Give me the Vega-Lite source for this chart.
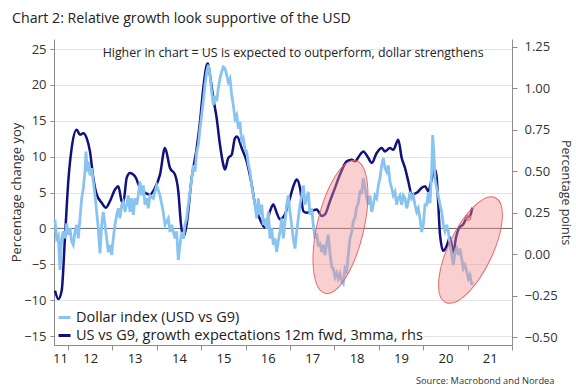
{
  "$schema": "https://vega.github.io/schema/vega-lite/v6.json",
  "width": 458,
  "height": 306,
  "autosize": "none",
  "padding": {"left": 54, "top": 39, "right": 64, "bottom": 43},
  "background": "white",
  "title": {"text": "Chart 2: Relative growth look supportive of the USD", "anchor": "start", "frame": "group", "dx": -42, "dy": 16, "offset": 18, "fontSize": 14.2, "fontWeight": "normal", "font": "Open Sans", "color": "#222222", "baseline": "alphabetic"},
  "config": {
    "view": {"stroke": null},
    "font": "Open Sans",
    "axis": {"labelFont": "Open Sans", "titleFont": "Open Sans", "labelColor": "#333333", "titleColor": "#333333", "titleFontWeight": "normal", "domainColor": "#8c8c8c", "tickColor": "#8c8c8c", "labelFontSize": 13, "titleFontSize": 13},
    "legend": {"labelFont": "Open Sans", "labelFontSize": 14.5, "labelColor": "#222222", "labelLimit": 500}
  },
  "resolve": {"scale": {"y": "independent"}, "axis": {"x": "independent", "y": "independent"}},
  "layer": [
    {
      "data": {"values": [{"v": 0}]},
      "mark": {"type": "rule", "color": "#666666", "strokeWidth": 1},
      "encoding": {
        "y": {"field": "v", "type": "quantitative", "scale": {"domain": [-16.25, 26.4], "nice": false, "zero": false}, "axis": null}
      }
    },
    {
      "data": {"values": [
        {"t": 2011.707, "v": -0.22}, {"t": 2011.782, "v": -0.27}, {"t": 2011.858, "v": -0.22}, {"t": 2011.932, "v": 0.10},
        {"t": 2012.007, "v": 0.44}, {"t": 2012.083, "v": 0.64}, {"t": 2012.196, "v": 0.75}, {"t": 2012.270, "v": 0.72},
        {"t": 2012.345, "v": 0.73}, {"t": 2012.421, "v": 0.70}, {"t": 2012.495, "v": 0.62}, {"t": 2012.570, "v": 0.46},
        {"t": 2012.646, "v": 0.36}, {"t": 2012.759, "v": 0.31}, {"t": 2012.856, "v": 0.28}, {"t": 2012.946, "v": 0.32},
        {"t": 2013.059, "v": 0.39}, {"t": 2013.133, "v": 0.41}, {"t": 2013.209, "v": 0.32}, {"t": 2013.245, "v": 0.31},
        {"t": 2013.322, "v": 0.46}, {"t": 2013.396, "v": 0.49}, {"t": 2013.509, "v": 0.47}, {"t": 2013.622, "v": 0.40},
        {"t": 2013.734, "v": 0.37}, {"t": 2013.847, "v": 0.36}, {"t": 2013.959, "v": 0.40}, {"t": 2014.072, "v": 0.48},
        {"t": 2014.185, "v": 0.64}, {"t": 2014.297, "v": 0.52}, {"t": 2014.410, "v": 0.48}, {"t": 2014.484, "v": 0.38},
        {"t": 2014.545, "v": 0.18}, {"t": 2014.597, "v": 0.10}, {"t": 2014.673, "v": 0.18}, {"t": 2014.786, "v": 0.46},
        {"t": 2014.899, "v": 0.64}, {"t": 2014.973, "v": 0.80}, {"t": 2015.047, "v": 1.00}, {"t": 2015.124, "v": 1.14},
        {"t": 2015.153, "v": 1.15}, {"t": 2015.198, "v": 1.08}, {"t": 2015.273, "v": 0.94}, {"t": 2015.349, "v": 0.82},
        {"t": 2015.423, "v": 0.66}, {"t": 2015.498, "v": 0.54}, {"t": 2015.536, "v": 0.51}, {"t": 2015.610, "v": 0.58},
        {"t": 2015.687, "v": 0.60}, {"t": 2015.761, "v": 0.70}, {"t": 2015.806, "v": 0.71}, {"t": 2015.912, "v": 0.64},
        {"t": 2016.025, "v": 0.56}, {"t": 2016.137, "v": 0.42}, {"t": 2016.212, "v": 0.30}, {"t": 2016.324, "v": 0.21},
        {"t": 2016.437, "v": 0.16}, {"t": 2016.550, "v": 0.26}, {"t": 2016.624, "v": 0.30}, {"t": 2016.700, "v": 0.25},
        {"t": 2016.775, "v": 0.21}, {"t": 2016.887, "v": 0.24}, {"t": 2017.000, "v": 0.34}, {"t": 2017.090, "v": 0.42},
        {"t": 2017.151, "v": 0.45}, {"t": 2017.225, "v": 0.40}, {"t": 2017.300, "v": 0.26}, {"t": 2017.376, "v": 0.25},
        {"t": 2017.489, "v": 0.26}, {"t": 2017.601, "v": 0.27}, {"t": 2017.714, "v": 0.23}, {"t": 2017.788, "v": 0.24},
        {"t": 2017.901, "v": 0.32}, {"t": 2018.014, "v": 0.40}, {"t": 2018.126, "v": 0.48}, {"t": 2018.277, "v": 0.56},
        {"t": 2018.390, "v": 0.57}, {"t": 2018.464, "v": 0.56}, {"t": 2018.577, "v": 0.60}, {"t": 2018.651, "v": 0.62},
        {"t": 2018.764, "v": 0.58}, {"t": 2018.840, "v": 0.55}, {"t": 2018.953, "v": 0.61}, {"t": 2019.065, "v": 0.64},
        {"t": 2019.140, "v": 0.62}, {"t": 2019.252, "v": 0.64}, {"t": 2019.327, "v": 0.63}, {"t": 2019.439, "v": 0.69},
        {"t": 2019.516, "v": 0.58}, {"t": 2019.590, "v": 0.52}, {"t": 2019.664, "v": 0.44}, {"t": 2019.741, "v": 0.36},
        {"t": 2019.854, "v": 0.37}, {"t": 2019.966, "v": 0.40}, {"t": 2020.041, "v": 0.41}, {"t": 2020.115, "v": 0.38},
        {"t": 2020.191, "v": 0.45}, {"t": 2020.266, "v": 0.51}, {"t": 2020.304, "v": 0.46}, {"t": 2020.340, "v": 0.30},
        {"t": 2020.378, "v": 0.12}, {"t": 2020.453, "v": 0.02}, {"t": 2020.529, "v": 0.05}, {"t": 2020.604, "v": 0.10},
        {"t": 2020.640, "v": 0.06}, {"t": 2020.678, "v": 0.01}, {"t": 2020.739, "v": 0.10}, {"t": 2020.813, "v": 0.16},
        {"t": 2020.903, "v": 0.18}, {"t": 2020.980, "v": 0.22}, {"t": 2021.054, "v": 0.23}, {"t": 2021.106, "v": 0.28}
      ]},
      "mark": {"type": "line", "strokeWidth": 2.5, "interpolate": "monotone"},
      "encoding": {
        "x": {"field": "t", "type": "quantitative", "scale": {"domain": [2011.685, 2022], "nice": false, "zero": false},
              "axis": {"orient": "bottom", "values": [2012, 2013, 2014, 2015, 2016, 2017, 2018, 2019, 2020, 2021, 2022], "labels": false, "ticks": true, "tickSize": 5, "grid": false, "title": null}},
        "y": {"field": "v", "type": "quantitative", "scale": {"domain": [-0.548, 1.298], "nice": false, "zero": false},
              "axis": {"orient": "right", "values": [-0.5, -0.25, 0, 0.25, 0.5, 0.75, 1, 1.25], "format": ".2f", "tickSize": 5, "labelPadding": 7, "grid": false, "title": "Percentage points", "titlePadding": 1, "titleFontSize": 12.5}},
        "color": {"datum": "US vs G9, growth expectations 12m fwd, 3mma, rhs", "type": "nominal",
                  "scale": {"domain": ["Dollar index (USD vs G9)", "US vs G9, growth expectations 12m fwd, 3mma, rhs"], "range": ["#89c3f0", "#10107e"]},
                  "legend": {"orient": "bottom-left", "offset": 2, "title": null, "symbolType": "stroke", "symbolStrokeWidth": 3, "symbolSize": 144, "rowPadding": 3, "padding": 1, "fillColor": "white", "labelOffset": 4}}
      }
    },
    {
      "data": {"values": [
        {"t": 2011.707, "v": 1.2}, {"t": 2011.745, "v": -1.4}, {"t": 2011.782, "v": -1.0}, {"t": 2011.820, "v": -5.8},
        {"t": 2011.858, "v": -1.4}, {"t": 2011.894, "v": -0.4}, {"t": 2011.932, "v": -1.4}, {"t": 2011.971, "v": 0.7},
        {"t": 2012.007, "v": -0.9}, {"t": 2012.045, "v": 0.0}, {"t": 2012.083, "v": -1.8}, {"t": 2012.119, "v": -2.3},
        {"t": 2012.158, "v": -0.4}, {"t": 2012.196, "v": 0.5}, {"t": 2012.232, "v": -1.4}, {"t": 2012.270, "v": 1.4},
        {"t": 2012.309, "v": 4.2}, {"t": 2012.345, "v": 5.6}, {"t": 2012.383, "v": 7.9}, {"t": 2012.405, "v": 10.7},
        {"t": 2012.435, "v": 7.9}, {"t": 2012.457, "v": 9.3}, {"t": 2012.495, "v": 7.4}, {"t": 2012.534, "v": 8.4},
        {"t": 2012.570, "v": 6.5}, {"t": 2012.608, "v": 4.6}, {"t": 2012.646, "v": 2.3}, {"t": 2012.682, "v": 0.0},
        {"t": 2012.721, "v": -3.5}, {"t": 2012.759, "v": 0.5}, {"t": 2012.795, "v": 2.3}, {"t": 2012.833, "v": 0.5},
        {"t": 2012.872, "v": -1.4}, {"t": 2012.908, "v": -3.3}, {"t": 2012.946, "v": -2.3}, {"t": 2012.984, "v": -3.7},
        {"t": 2013.020, "v": -1.4}, {"t": 2013.059, "v": 0.5}, {"t": 2013.097, "v": 1.9}, {"t": 2013.133, "v": 2.8},
        {"t": 2013.171, "v": 1.4}, {"t": 2013.209, "v": 3.3}, {"t": 2013.245, "v": 3.7}, {"t": 2013.284, "v": 2.3},
        {"t": 2013.322, "v": 3.3}, {"t": 2013.358, "v": 4.6}, {"t": 2013.396, "v": 2.3}, {"t": 2013.435, "v": 4.2},
        {"t": 2013.471, "v": 1.9}, {"t": 2013.509, "v": 4.2}, {"t": 2013.547, "v": 3.3}, {"t": 2013.583, "v": 4.6},
        {"t": 2013.622, "v": 6.5}, {"t": 2013.660, "v": 4.6}, {"t": 2013.696, "v": 6.0}, {"t": 2013.734, "v": 3.3},
        {"t": 2013.773, "v": 4.2}, {"t": 2013.809, "v": 2.8}, {"t": 2013.847, "v": 4.6}, {"t": 2013.921, "v": 4.2},
        {"t": 2013.998, "v": 6.0}, {"t": 2014.072, "v": 4.6}, {"t": 2014.146, "v": 2.3}, {"t": 2014.185, "v": 0.5},
        {"t": 2014.259, "v": 1.4}, {"t": 2014.297, "v": -0.5}, {"t": 2014.336, "v": 0.5}, {"t": 2014.410, "v": -1.4},
        {"t": 2014.448, "v": -0.4}, {"t": 2014.484, "v": -4.4}, {"t": 2014.523, "v": -2.3}, {"t": 2014.561, "v": -0.5},
        {"t": 2014.597, "v": -1.4}, {"t": 2014.635, "v": 0.5}, {"t": 2014.673, "v": 1.4}, {"t": 2014.709, "v": 3.3},
        {"t": 2014.748, "v": 5.1}, {"t": 2014.786, "v": 6.9}, {"t": 2014.822, "v": 8.8}, {"t": 2014.860, "v": 7.9},
        {"t": 2014.899, "v": 10.7}, {"t": 2014.935, "v": 11.6}, {"t": 2014.973, "v": 13.9}, {"t": 2015.011, "v": 15.8},
        {"t": 2015.047, "v": 17.7}, {"t": 2015.086, "v": 20.0}, {"t": 2015.124, "v": 21.8}, {"t": 2015.160, "v": 22.8},
        {"t": 2015.198, "v": 21.4}, {"t": 2015.236, "v": 19.0}, {"t": 2015.273, "v": 17.2}, {"t": 2015.311, "v": 18.5},
        {"t": 2015.349, "v": 17.7}, {"t": 2015.385, "v": 19.5}, {"t": 2015.423, "v": 20.9}, {"t": 2015.462, "v": 21.8},
        {"t": 2015.498, "v": 22.5}, {"t": 2015.536, "v": 22.3}, {"t": 2015.574, "v": 21.4}, {"t": 2015.610, "v": 20.4},
        {"t": 2015.649, "v": 20.9}, {"t": 2015.687, "v": 18.6}, {"t": 2015.723, "v": 17.2}, {"t": 2015.761, "v": 15.3},
        {"t": 2015.800, "v": 15.8}, {"t": 2015.836, "v": 13.9}, {"t": 2015.874, "v": 14.8}, {"t": 2015.912, "v": 12.0},
        {"t": 2015.948, "v": 12.5}, {"t": 2015.986, "v": 11.0}, {"t": 2016.025, "v": 10.7}, {"t": 2016.061, "v": 9.0},
        {"t": 2016.099, "v": 7.9}, {"t": 2016.137, "v": 6.0}, {"t": 2016.173, "v": 4.6}, {"t": 2016.212, "v": 3.3},
        {"t": 2016.250, "v": 1.4}, {"t": 2016.286, "v": 4.2}, {"t": 2016.324, "v": 1.9}, {"t": 2016.363, "v": 3.3},
        {"t": 2016.399, "v": 0.5}, {"t": 2016.437, "v": 1.4}, {"t": 2016.475, "v": 0.0}, {"t": 2016.511, "v": 2.3},
        {"t": 2016.550, "v": -1.4}, {"t": 2016.588, "v": 0.0}, {"t": 2016.624, "v": -2.3}, {"t": 2016.662, "v": -1.4},
        {"t": 2016.700, "v": -3.3}, {"t": 2016.736, "v": -1.8}, {"t": 2016.775, "v": -0.4}, {"t": 2016.813, "v": 1.4},
        {"t": 2016.849, "v": -1.4}, {"t": 2016.887, "v": 0.9}, {"t": 2016.926, "v": 3.3}, {"t": 2016.962, "v": 4.6},
        {"t": 2017.000, "v": 2.3}, {"t": 2017.038, "v": 0.5}, {"t": 2017.074, "v": -1.4}, {"t": 2017.113, "v": -2.8},
        {"t": 2017.151, "v": -0.4}, {"t": 2017.187, "v": 1.4}, {"t": 2017.225, "v": 3.3}, {"t": 2017.264, "v": 4.6},
        {"t": 2017.300, "v": 6.0}, {"t": 2017.338, "v": 3.3}, {"t": 2017.376, "v": 4.2}, {"t": 2017.412, "v": 5.1},
        {"t": 2017.450, "v": 1.9}, {"t": 2017.489, "v": 2.8}, {"t": 2017.525, "v": 0.5}, {"t": 2017.563, "v": -1.4},
        {"t": 2017.601, "v": -0.7}, {"t": 2017.637, "v": -2.3}, {"t": 2017.676, "v": -2.1}, {"t": 2017.714, "v": -3.3},
        {"t": 2017.750, "v": -2.3}, {"t": 2017.788, "v": -3.7}, {"t": 2017.826, "v": -2.1}, {"t": 2017.863, "v": -0.9},
        {"t": 2017.901, "v": -3.5}, {"t": 2017.939, "v": -5.4}, {"t": 2017.975, "v": -5.6}, {"t": 2018.014, "v": -6.8},
        {"t": 2018.052, "v": -6.2}, {"t": 2018.088, "v": -7.0}, {"t": 2018.126, "v": -6.3}, {"t": 2018.164, "v": -7.4},
        {"t": 2018.200, "v": -7.7}, {"t": 2018.239, "v": -5.6}, {"t": 2018.277, "v": -6.0}, {"t": 2018.313, "v": -3.7},
        {"t": 2018.351, "v": -1.4}, {"t": 2018.390, "v": -0.5}, {"t": 2018.426, "v": 1.0}, {"t": 2018.464, "v": 1.5},
        {"t": 2018.502, "v": 3.0}, {"t": 2018.538, "v": 3.5}, {"t": 2018.577, "v": 5.1}, {"t": 2018.615, "v": 5.0},
        {"t": 2018.651, "v": 7.0}, {"t": 2018.689, "v": 5.6}, {"t": 2018.728, "v": 4.2}, {"t": 2018.764, "v": 3.3},
        {"t": 2018.802, "v": 4.6}, {"t": 2018.840, "v": 2.3}, {"t": 2018.876, "v": 3.3}, {"t": 2018.914, "v": 4.6},
        {"t": 2018.953, "v": 4.2}, {"t": 2018.989, "v": 6.0}, {"t": 2019.027, "v": 7.0}, {"t": 2019.065, "v": 8.8},
        {"t": 2019.101, "v": 9.8}, {"t": 2019.140, "v": 8.4}, {"t": 2019.178, "v": 7.9}, {"t": 2019.214, "v": 8.8},
        {"t": 2019.252, "v": 6.5}, {"t": 2019.291, "v": 5.6}, {"t": 2019.327, "v": 4.6}, {"t": 2019.365, "v": 5.1},
        {"t": 2019.403, "v": 3.3}, {"t": 2019.439, "v": 4.2}, {"t": 2019.477, "v": 4.6}, {"t": 2019.516, "v": 3.3},
        {"t": 2019.552, "v": 4.6}, {"t": 2019.590, "v": 4.2}, {"t": 2019.628, "v": 2.8}, {"t": 2019.664, "v": 3.7},
        {"t": 2019.703, "v": 5.1}, {"t": 2019.741, "v": 4.2}, {"t": 2019.777, "v": 4.6}, {"t": 2019.815, "v": 3.3},
        {"t": 2019.854, "v": 2.3}, {"t": 2019.890, "v": 2.8}, {"t": 2019.928, "v": 1.4}, {"t": 2019.966, "v": -0.5},
        {"t": 2020.002, "v": 0.5}, {"t": 2020.041, "v": 3.3}, {"t": 2020.079, "v": 3.3}, {"t": 2020.115, "v": 5.0},
        {"t": 2020.153, "v": 3.5}, {"t": 2020.191, "v": 7.9}, {"t": 2020.214, "v": 13.0}, {"t": 2020.243, "v": 10.2},
        {"t": 2020.266, "v": 6.9}, {"t": 2020.304, "v": 5.6}, {"t": 2020.340, "v": 4.6}, {"t": 2020.378, "v": 3.3},
        {"t": 2020.417, "v": 2.3}, {"t": 2020.453, "v": 0.5}, {"t": 2020.491, "v": -0.4}, {"t": 2020.529, "v": 0.5},
        {"t": 2020.565, "v": -0.4}, {"t": 2020.604, "v": -2.3}, {"t": 2020.642, "v": -3.7}, {"t": 2020.678, "v": -5.1},
        {"t": 2020.716, "v": -3.3}, {"t": 2020.755, "v": -2.8}, {"t": 2020.791, "v": -3.7}, {"t": 2020.829, "v": -2.8},
        {"t": 2020.867, "v": -4.2}, {"t": 2020.903, "v": -5.6}, {"t": 2020.941, "v": -5.1}, {"t": 2020.980, "v": -6.0},
        {"t": 2021.016, "v": -7.0}, {"t": 2021.054, "v": -6.5}, {"t": 2021.092, "v": -7.9}, {"t": 2021.106, "v": -7.4}
      ]},
      "mark": {"type": "line", "strokeWidth": 2.8},
      "encoding": {
        "x": {"field": "t", "type": "quantitative", "scale": {"domain": [2011.685, 2022], "nice": false, "zero": false},
              "axis": {"orient": "bottom", "values": [2011.82, 2012.5, 2013.5, 2014.5, 2015.5, 2016.5, 2017.5, 2018.5, 2019.5, 2020.5, 2021.5], "labelExpr": "format(floor(datum.value) - 2000, 'd')", "ticks": false, "tickSize": 0, "domain": false, "grid": false, "labelPadding": 7, "labelColor": "#222222",
                       "title": "Source: Macrobond and Nordea", "titleFontSize": 9.3, "titleAlign": "right", "titleAnchor": "end", "titleX": 500, "titleY": 38, "titleBaseline": "alphabetic", "titleColor": "#333333"}},
        "y": {"field": "v", "type": "quantitative", "scale": {"domain": [-16.25, 26.4], "nice": false, "zero": false},
              "axis": {"orient": "left", "values": [-15, -10, -5, 0, 5, 10, 15, 20, 25], "tickSize": 4, "labelPadding": 4, "grid": true, "gridColor": "#e3e3e3", "title": "Percentage change yoy", "titlePadding": 0}},
        "color": {"datum": "Dollar index (USD vs G9)", "type": "nominal"}
      }
    },
    {
      "data": {"values": [{"t": 2018.137, "v": 0.21}]},
      "mark": {"type": "point", "filled": true, "shape": "M0,-1.36C0.2585,-1.36,0.468,-0.751,0.468,0C0.468,0.751,0.2585,1.36,0,1.36C-0.2585,1.36,-0.468,0.751,-0.468,0C-0.468,-0.751,-0.2585,-1.36,0,-1.36Z", "size": 10000, "angle": 13, "fill": "#f08c8c", "fillOpacity": 0.42, "stroke": "#e06060", "strokeWidth": 1, "strokeOpacity": 0.9, "opacity": 1},
      "encoding": {
        "x": {"field": "t", "type": "quantitative", "scale": {"domain": [2011.685, 2022], "nice": false, "zero": false}, "axis": null},
        "y": {"field": "v", "type": "quantitative", "scale": {"domain": [-16.25, 26.4], "nice": false, "zero": false}, "axis": null}
      }
    },
    {
      "data": {"values": [{"t": 2021.065, "v": -3.02}]},
      "mark": {"type": "point", "filled": true, "shape": "M0,-1.16C0.243,-1.16,0.44,-0.6407,0.44,0C0.44,0.6407,0.243,1.16,0,1.16C-0.243,1.16,-0.44,0.6407,-0.44,0C-0.44,-0.6407,-0.243,-1.16,0,-1.16Z", "size": 10000, "angle": 25.5, "fill": "#f08c8c", "fillOpacity": 0.42, "stroke": "#e06060", "strokeWidth": 1, "strokeOpacity": 0.9, "opacity": 1},
      "encoding": {
        "x": {"field": "t", "type": "quantitative", "scale": {"domain": [2011.685, 2022], "nice": false, "zero": false}, "axis": null},
        "y": {"field": "v", "type": "quantitative", "scale": {"domain": [-16.25, 26.4], "nice": false, "zero": false}, "axis": null}
      }
    },
    {
      "data": {"values": [{"t": 2021.01, "v": 0.22}]},
      "mark": {"type": "point", "filled": true, "shape": "circle", "size": 30, "fill": "#f08c8c", "fillOpacity": 0.5, "stroke": "#e06060", "strokeWidth": 1},
      "encoding": {
        "x": {"field": "t", "type": "quantitative", "scale": {"domain": [2011.685, 2022], "nice": false, "zero": false}, "axis": null},
        "y": {"field": "v", "type": "quantitative", "scale": {"domain": [-0.548, 1.298], "nice": false, "zero": false}, "axis": null}
      }
    },
    {
      "data": {"values": [{"t": 2017.07, "v": 24.5, "label": "Higher in chart = US is expected to outperform, dollar strengthens"}]},
      "mark": {"type": "text", "fontSize": 12.4, "font": "Open Sans", "color": "#222222", "align": "center", "baseline": "middle"},
      "encoding": {
        "x": {"field": "t", "type": "quantitative", "scale": {"domain": [2011.685, 2022], "nice": false, "zero": false}, "axis": null},
        "y": {"field": "v", "type": "quantitative", "scale": {"domain": [-16.25, 26.4], "nice": false, "zero": false}, "axis": null},
        "text": {"field": "label"}
      }
    }
  ]
}
